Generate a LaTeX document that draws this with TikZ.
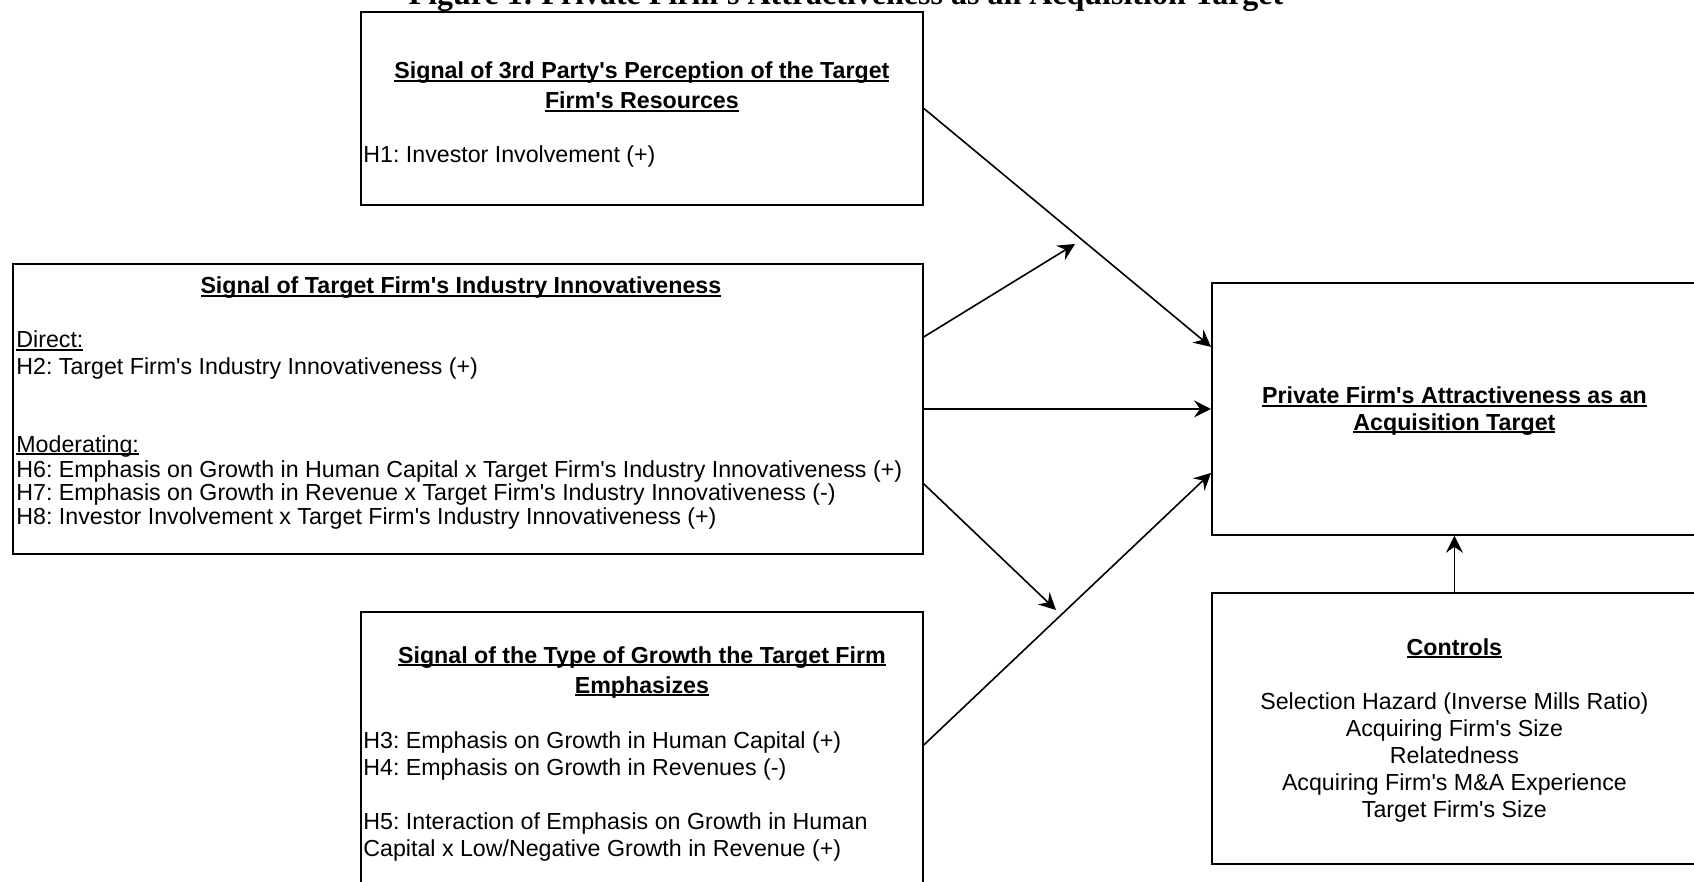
\documentclass[tikz,border=0pt]{standalone}
\usepackage{fontspec}
\setmainfont{Liberation Sans}[Ligatures=TeXOff]
\newfontfamily\capfont{Liberation Serif}[Ligatures=TeXOff]
\usetikzlibrary{arrows.meta,positioning}
\frenchspacing
\newsavebox\ulbox
\newcommand{\hul}[1]{\sbox\ulbox{#1}\rlap{\rule[-1.3pt]{\wd\ulbox}{0.6pt}}\usebox\ulbox}
\tikzset{
  box/.style={draw, line width=0.9pt, inner sep=0pt, anchor=north west},
  txt/.style={inner sep=0pt, font=\fontsize{11.6}{13.5}\selectfont},
  head/.style={inner sep=0pt, anchor=base, font=\bfseries\fontsize{11.6}{13.5}\selectfont},
  link/.style={-{Stealth[length=8.5pt,width=8.5pt,inset=3pt]}, line width=0.8pt},
}

\begin{document}
\begin{tikzpicture}[x=0.5pt,y=-0.5pt]
  \useasboundingbox (0,0) rectangle (1694,882);
  \node(title)[anchor=base, inner sep=0pt, font=\capfont\bfseries\fontsize{16}{19}\selectfont] at (846,5) {Figure 1: Private Firm's Attractiveness as an Acquisition Target};

  \node(sigres)[box, minimum width=281pt, minimum height=96.5pt] at (360,11) {};
  \node(sigind)[box, minimum width=455pt, minimum height=145pt] at (12,263) {};
  \node(siggrow)[box, minimum width=281pt, minimum height=144.5pt] at (360,611) {};
  \node(target)[box, minimum width=242.5pt, minimum height=126pt] at (1211,282) {};
  \node(controls)[box, minimum width=242.5pt, minimum height=135.5pt] at (1211,592) {};

  \node(res1)[head] at ([shift={(0,68)}]sigres.north) {\hul{Signal of 3rd Party's Perception of the Target}};
  \node(res2)[head] at ([shift={(0,98)}]sigres.north) {\hul{Firm's Resources}};
  \node(h1)[txt, anchor=base west] at ([shift={(3,152)}]sigres.north west) {H1: Investor Involvement (+)};

  \node(ind1)[head] at ([shift={(-7,31)}]sigind.north) {\hul{Signal of Target Firm's Industry Innovativeness}};
  \node(direct)[txt, anchor=base west] at ([shift={(4,85)}]sigind.north west) {\hul{Direct:}};
  \node(h2)[txt, anchor=base west] at ([shift={(4,112)}]sigind.north west) {H2: Target Firm's Industry Innovativeness (+)};
  \node(moder)[txt, anchor=base west] at ([shift={(4,189)}]sigind.north west) {\hul{Moderating:}};
  \node(h6)[txt, anchor=base west] at ([shift={(4,215)}]sigind.north west) {H6: Emphasis on Growth in Human Capital x Target Firm's Industry Innovativeness (+)};
  \node(h7)[txt, anchor=base west] at ([shift={(4,238)}]sigind.north west) {H7: Emphasis on Growth in Revenue x Target Firm's Industry Innovativeness (-)};
  \node(h8)[txt, anchor=base west] at ([shift={(4,261)}]sigind.north west) {H8: Investor Involvement x Target Firm's Industry Innovativeness (+)};

  \node(grow1)[head] at ([shift={(0,52)}]siggrow.north) {\hul{Signal of the Type of Growth the Target Firm}};
  \node(grow2)[head] at ([shift={(0,82)}]siggrow.north) {\hul{Emphasizes}};
  \node(h3)[txt, anchor=base west] at ([shift={(3,137)}]siggrow.north west) {H3: Emphasis on Growth in Human Capital (+)};
  \node(h4)[txt, anchor=base west] at ([shift={(3,164)}]siggrow.north west) {H4: Emphasis on Growth in Revenues (-)};
  \node(h5a)[txt, anchor=base west] at ([shift={(3,218)}]siggrow.north west) {H5: Interaction of Emphasis on Growth in Human};
  \node(h5b)[txt, anchor=base west] at ([shift={(3,245)}]siggrow.north west) {Capital x Low/Negative Growth in Revenue (+)};

  \node(tgt1)[head] at ([shift={(0,122)}]target.north) {\hul{Private Firm's Attractiveness as an}};
  \node(tgt2)[head] at ([shift={(0,148)}]target.north) {\hul{Acquisition Target}};

  \node(ctlhead)[head] at ([shift={(0,63)}]controls.north) {\hul{Controls}};
  \node(ctl1)[txt, anchor=base] at ([shift={(0,117)}]controls.north) {Selection Hazard (Inverse Mills Ratio)};
  \node(ctl2)[txt, anchor=base] at ([shift={(0,144)}]controls.north) {Acquiring Firm's Size};
  \node(ctl3)[txt, anchor=base] at ([shift={(0,171)}]controls.north) {Relatedness};
  \node(ctl4)[txt, anchor=base] at ([shift={(0,198)}]controls.north) {Acquiring Firm's M\&A Experience};
  \node(ctl5)[txt, anchor=base] at ([shift={(0,225)}]controls.north) {Target Firm's Size};

  \coordinate(tipa) at (1075,244);
  \coordinate(tipb) at (1056,610);
  \draw[link] (sigres.east) -- ([yshift=31pt]target.west);
  \draw[link] ([yshift=36pt]sigind.east) -- (tipa);
  \draw[link] (sigind.east) -- (target.west);
  \draw[link] ([yshift=-37.5pt]sigind.east) -- (tipb);
  \draw[link] ([yshift=-67pt]siggrow.north east) -- ([yshift=-32pt]target.west);
  \draw[link] (controls.north) -- (target.south);
\end{tikzpicture}
\end{document}
